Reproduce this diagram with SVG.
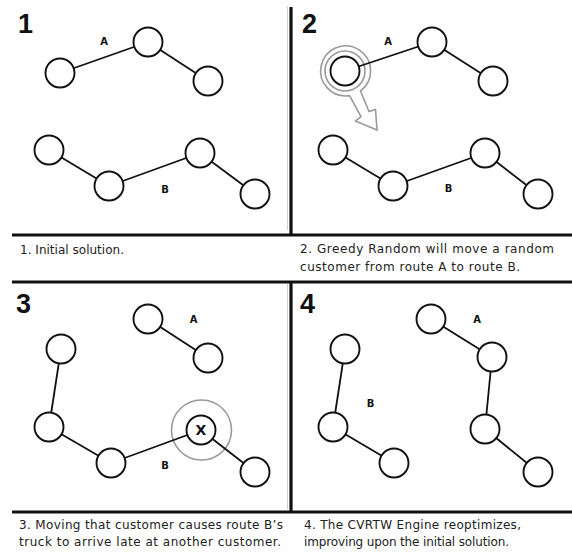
<svg xmlns="http://www.w3.org/2000/svg" width="572" height="552" viewBox="0 0 572 552">
<style>
.bg{fill:#ffffff}
.frame{stroke:#111111;stroke-width:3.2;fill:none}
.faint{stroke:#cfcfcf;stroke-width:1;fill:none}
.node circle{fill:#ffffff;stroke:#111111;stroke-width:1.9}
.edge line{stroke:#111111;stroke-width:1.8}
.halo{fill:none;stroke:#9a9a9a;stroke-width:1.6}
.num{font-family:"Liberation Sans",Arial,sans-serif;font-weight:bold;font-size:27px;fill:#111111}
.lbl{font-family:"DejaVu Sans","Liberation Sans",sans-serif;font-weight:bold;font-size:10px;fill:#111111;text-anchor:middle}
.xl{font-family:"DejaVu Sans","Liberation Sans",sans-serif;font-weight:bold;font-size:14px;fill:#111111;text-anchor:middle}
.cap{font-family:"DejaVu Sans","Liberation Sans",sans-serif;font-size:12px;fill:#222222}
</style>
<rect class="bg" x="0" y="0" width="572" height="552"/>
<g id="frame">
<line class="faint" x1="287.5" y1="6" x2="287.5" y2="230"/>
<line class="faint" x1="287.5" y1="284" x2="287.5" y2="509"/>
<line class="frame" x1="291" y1="7" x2="291" y2="235"/>
<line class="frame" x1="291" y1="282" x2="291" y2="512"/>
<line class="frame" x1="12" y1="235" x2="572" y2="235"/>
<line class="frame" x1="12" y1="282" x2="572" y2="282"/>
<line class="frame" x1="12" y1="512" x2="572" y2="512"/>
</g>
<g id="highlights">
<path class="halo" d="M 360.5 91 L 369 111.5 L 375.5 109.5 L 377 130 L 355.5 121 L 361 116.5 L 349.5 95.6 A 25 25 0 1 1 360.5 91 Z"/>
<circle class="halo" cx="345" cy="71" r="20"/>
<circle class="halo" cx="201.5" cy="430" r="30"/>
</g>
<g id="connectors" class="edge">
<line x1="60" y1="73" x2="148" y2="42"/>
<line x1="148" y1="42" x2="208" y2="81"/>
<line x1="49" y1="150" x2="109" y2="186"/>
<line x1="109" y1="186" x2="200" y2="153"/>
<line x1="200" y1="153" x2="255" y2="194"/>
<line x1="345" y1="71" x2="432" y2="42"/>
<line x1="432" y1="42" x2="493" y2="81"/>
<line x1="333" y1="150" x2="393" y2="186"/>
<line x1="393" y1="186" x2="485" y2="153"/>
<line x1="485" y1="153" x2="538" y2="194"/>
<line x1="148" y1="319" x2="208" y2="358"/>
<line x1="61" y1="349" x2="49" y2="427"/>
<line x1="49" y1="427" x2="111" y2="463"/>
<line x1="111" y1="463" x2="201" y2="430"/>
<line x1="201" y1="430" x2="255" y2="472"/>
<line x1="431" y1="319" x2="492" y2="357"/>
<line x1="492" y1="357" x2="485" y2="429"/>
<line x1="485" y1="429" x2="538" y2="472"/>
<line x1="345" y1="349" x2="333" y2="427"/>
<line x1="333" y1="427" x2="394" y2="463"/>
</g>
<g id="p1-a1" class="node"><circle cx="60" cy="73" r="14.5"/></g>
<g id="p1-a2" class="node"><circle cx="148" cy="42" r="14.5"/></g>
<g id="p1-a3" class="node"><circle cx="208" cy="81" r="14.5"/></g>
<g id="p1-b1" class="node"><circle cx="49" cy="150" r="14.5"/></g>
<g id="p1-b2" class="node"><circle cx="109" cy="186" r="14.5"/></g>
<g id="p1-b3" class="node"><circle cx="200" cy="153" r="14.5"/></g>
<g id="p1-b4" class="node"><circle cx="255" cy="194" r="14.5"/></g>
<g id="p2-a1" class="node"><circle cx="345" cy="71" r="14.5"/></g>
<g id="p2-a2" class="node"><circle cx="432" cy="42" r="14.5"/></g>
<g id="p2-a3" class="node"><circle cx="493" cy="81" r="14.5"/></g>
<g id="p2-b1" class="node"><circle cx="333" cy="150" r="14.5"/></g>
<g id="p2-b2" class="node"><circle cx="393" cy="186" r="14.5"/></g>
<g id="p2-b3" class="node"><circle cx="485" cy="153" r="14.5"/></g>
<g id="p2-b4" class="node"><circle cx="538" cy="194" r="14.5"/></g>
<g id="p3-a1" class="node"><circle cx="148" cy="319" r="14.5"/></g>
<g id="p3-a2" class="node"><circle cx="208" cy="358" r="14.5"/></g>
<g id="p3-b1" class="node"><circle cx="61" cy="349" r="14.5"/></g>
<g id="p3-b2" class="node"><circle cx="49" cy="427" r="14.5"/></g>
<g id="p3-b3" class="node"><circle cx="111" cy="463" r="14.5"/></g>
<g id="p3-x" class="node"><circle cx="201" cy="430" r="14.5"/><text class="xl" x="201" y="435">X</text></g>
<g id="p3-b5" class="node"><circle cx="255" cy="472" r="14.5"/></g>
<g id="p4-a1" class="node"><circle cx="431" cy="319" r="14.5"/></g>
<g id="p4-a2" class="node"><circle cx="492" cy="357" r="14.5"/></g>
<g id="p4-a3" class="node"><circle cx="485" cy="429" r="14.5"/></g>
<g id="p4-a4" class="node"><circle cx="538" cy="472" r="14.5"/></g>
<g id="p4-b1" class="node"><circle cx="345" cy="349" r="14.5"/></g>
<g id="p4-b2" class="node"><circle cx="333" cy="427" r="14.5"/></g>
<g id="p4-b3" class="node"><circle cx="394" cy="463" r="14.5"/></g>
<g id="labels">
<text class="num" x="18" y="33">1</text>
<text class="num" x="302" y="33">2</text>
<text class="num" x="16" y="313">3</text>
<text class="num" x="300" y="313">4</text>
<text class="lbl" x="104" y="45">A</text>
<text class="lbl" x="165" y="193">B</text>
<text class="lbl" x="388" y="44.5">A</text>
<text class="lbl" x="448.5" y="192">B</text>
<text class="lbl" x="193.5" y="323">A</text>
<text class="lbl" x="165" y="469">B</text>
<text class="lbl" x="477" y="323">A</text>
<text class="lbl" x="370.5" y="406.5">B</text>
</g>
<g id="captions">
<text class="cap" x="20" y="253.5" textLength="104">1. Initial solution.</text>
<text class="cap" x="300" y="253" textLength="254">2. Greedy Random will move a random</text>
<text class="cap" x="300" y="270.5" textLength="220">customer from route A to route B.</text>
<text class="cap" x="19" y="529" textLength="264">3. Moving that customer causes route B’s</text>
<text class="cap" x="19" y="545.5" textLength="262">truck to arrive late at another customer.</text>
<text class="cap" x="304" y="529" textLength="217">4. The CVRTW Engine reoptimizes,</text>
<text class="cap" x="304" y="545.5" textLength="205">improving upon the initial solution.</text>
</g>
</svg>
